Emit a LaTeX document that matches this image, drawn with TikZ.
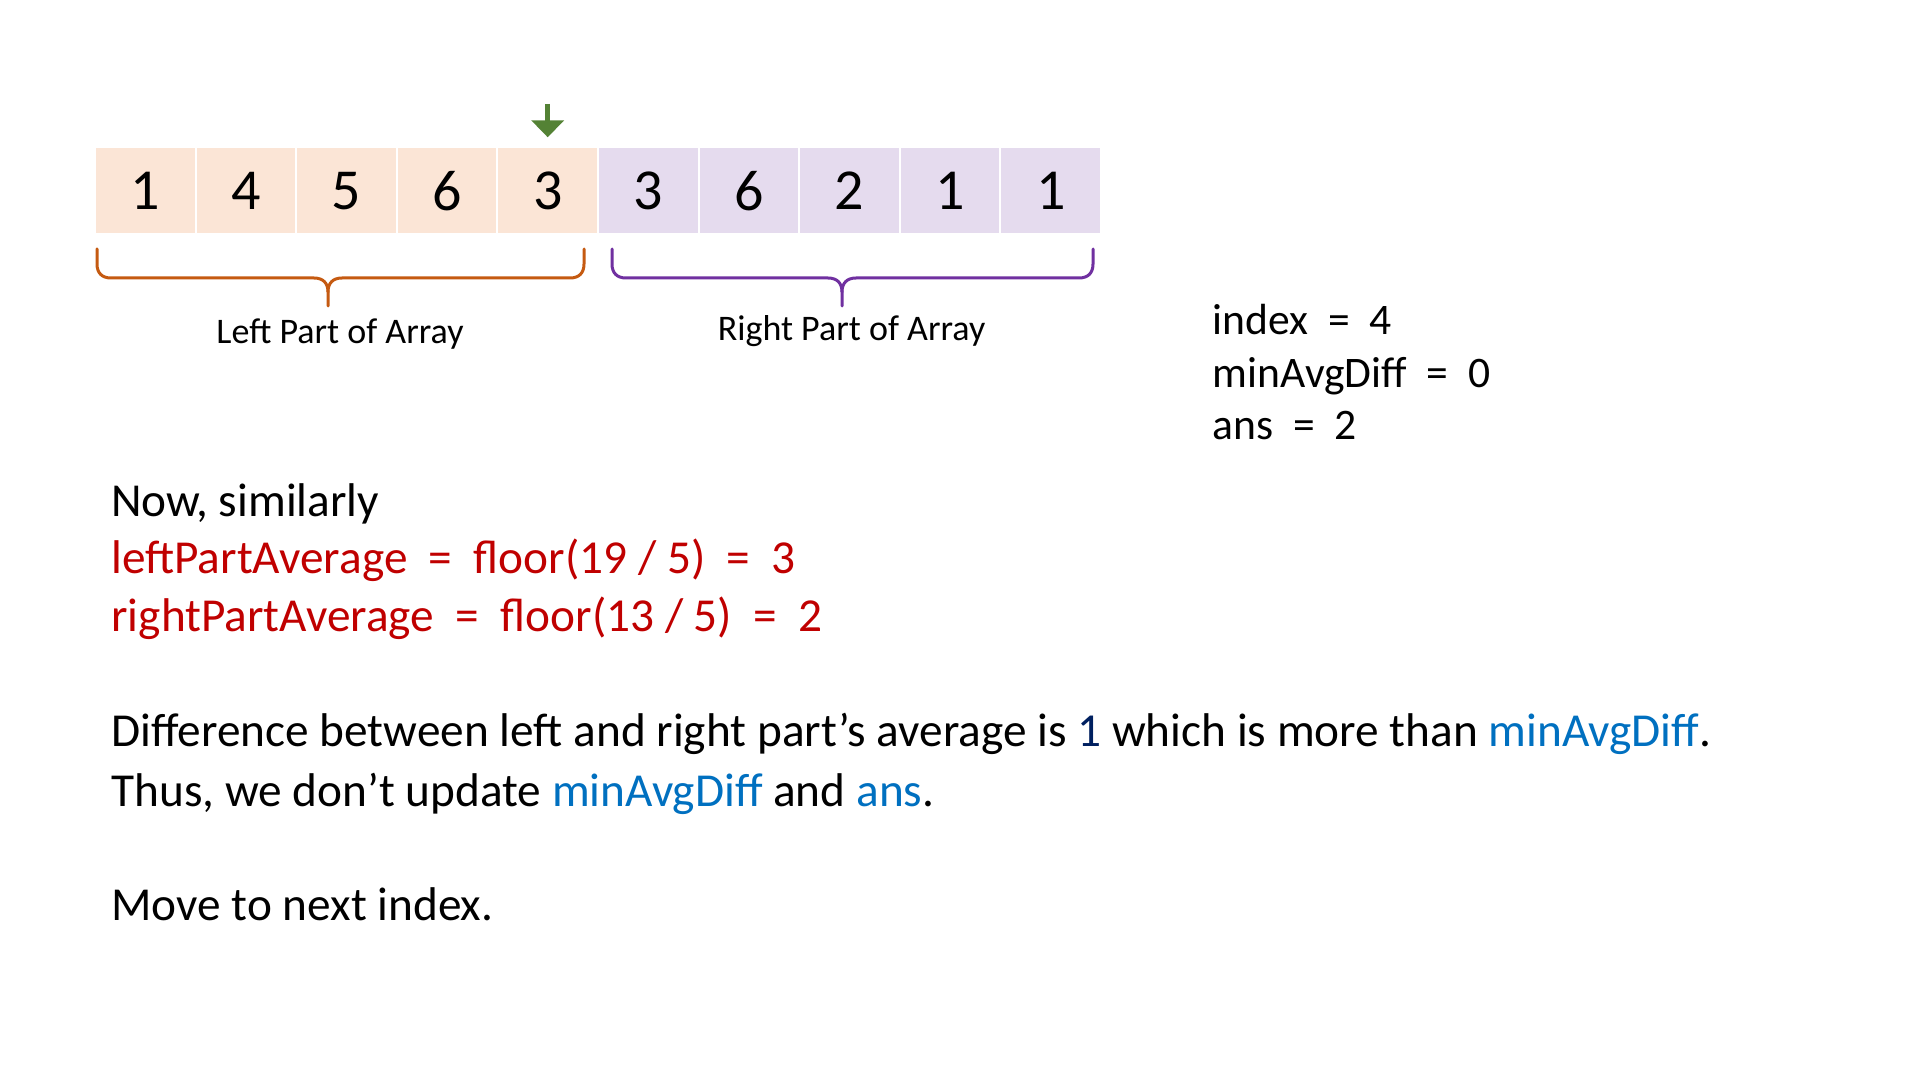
\documentclass[tikz,border=0pt]{standalone}
\usepackage{fontspec}
\setmainfont{Carlito}
\usetikzlibrary{arrows.meta}

\definecolor{cellOrange}{HTML}{FBE5D6}
\definecolor{cellPurple}{HTML}{E5DBEE}
\definecolor{braceOrange}{HTML}{C55A11}
\definecolor{bracePurple}{HTML}{7030A0}
\definecolor{arrowGreen}{HTML}{548235}
\definecolor{txtRed}{HTML}{C00000}
\definecolor{txtBlue}{HTML}{0070C0}
\definecolor{txtNavy}{HTML}{002060}

\begin{document}
\begin{tikzpicture}[x=0.5pt,y=0.5pt,yscale=-1,xscale=1,
  cell/.style={draw=white,line width=1pt,minimum width=50.3pt,minimum height=43.5pt,inner sep=0pt,font=\fontsize{29}{35}\selectfont},
  bodytxt/.style={anchor=base west,inner sep=0pt,font=\fontsize{23.65}{29}\selectfont},
  vartxt/.style={anchor=base west,inner sep=0pt,font=\fontsize{21.8}{26}\selectfont},
  partlbl/.style={anchor=base,inner sep=0pt,font=\fontsize{18}{22}\selectfont},
  bracepath/.style={line width=1.5pt,line join=round,line cap=round}]
%uncomment if require: \path (0,1080); %set diagram left start at 0, and has height of 1080
\useasboundingbox (0,0) rectangle (1920,1080);
\fill[white] (0,0) rectangle (1920,1080);

%Shape: Array cells, left part
\node[cell,fill=cellOrange] (c1) at (145.3,190.8) {1};
\node[cell,fill=cellOrange] (c2) at (245.9,190.8) {4};
\node[cell,fill=cellOrange] (c3) at (346.5,190.8) {5};
\node[cell,fill=cellOrange] (c4) at (447.1,190.8) {6};
\node[cell,fill=cellOrange] (c5) at (547.7,190.8) {3};
%Shape: Array cells, right part
\node[cell,fill=cellPurple] (c6) at (648.3,190.8) {3};
\node[cell,fill=cellPurple] (c7) at (748.9,190.8) {6};
\node[cell,fill=cellPurple] (c8) at (849.5,190.8) {2};
\node[cell,fill=cellPurple] (c9) at (950.1,190.8) {1};
\node[cell,fill=cellPurple] (c10) at (1050.7,190.8) {1};

%Down Arrow
\coordinate (ptr) at (547.7,104);
\draw [arrowGreen,line width=2.5pt,-{Triangle[width=16pt,length=8.5pt]}] (ptr) -- ([yshift=-4.5pt]c5.north);

%Left Brace
\draw [braceOrange,bracepath] (97,249) -- (97,264) .. controls (97,273) and (102,278) .. (111,278) -- (314,278) .. controls (323,278) and (328,283) .. (328,292) -- (328,306);
\draw [braceOrange,bracepath] (328,292) .. controls (328,283) and (333,278) .. (342,278) -- (570,278) .. controls (579,278) and (584,273) .. (584,264) -- (584,249);
%Right Brace
\draw [bracePurple,bracepath] (612,249) -- (612,264) .. controls (612,273) and (617,278) .. (626,278) -- (828,278) .. controls (837,278) and (842,283) .. (842,292) -- (842,306);
\draw [bracePurple,bracepath] (842,292) .. controls (842,283) and (847,278) .. (856,278) -- (1079,278) .. controls (1088,278) and (1093,273) .. (1093,264) -- (1093,249);

% Text Node
\node[partlbl] (leftlbl) at (340,343.5) {Left Part of Array};
% Text Node
\node[partlbl] (rightlbl) at (851.5,340.5) {Right Part of Array};

% Text Node
\node[vartxt] (idx) at (1212.5,335) {index\ \ =\ \ 4};
% Text Node
\node[vartxt] (mindiff) at (1212.5,387) {minAvgDiff\ \ =\ \ 0};
% Text Node
\node[vartxt] (ans) at (1212.5,439) {ans\ \ =\ \ 2};

% Text Node
\node[bodytxt] (now) at (111,516.5) {Now, similarly};
% Text Node
\node[bodytxt,text=txtRed] (lavg) at (111,573.5) {leftPartAverage\ \ =\ \ floor(19 / 5)\ \ =\ \ 3};
% Text Node
\node[bodytxt,text=txtRed] (ravg) at (111,631.5) {rightPartAverage\ \ =\ \ floor(13 / 5)\ \ =\ \ 2};

% Text Node
\node[bodytxt] (diff) at (111,746.7) {Difference between left and right part’s average is {\color{txtNavy}1} which is more than {\color{txtBlue}minAvgDiff}.};
% Text Node
\node[bodytxt] (thus) at (111,806) {Thus, we don’t update {\color{txtBlue}minAvgDiff} and {\color{txtBlue}ans}.};
% Text Node
\node[bodytxt] (move) at (111,920) {Move to next index.};

\end{tikzpicture}
\end{document}
